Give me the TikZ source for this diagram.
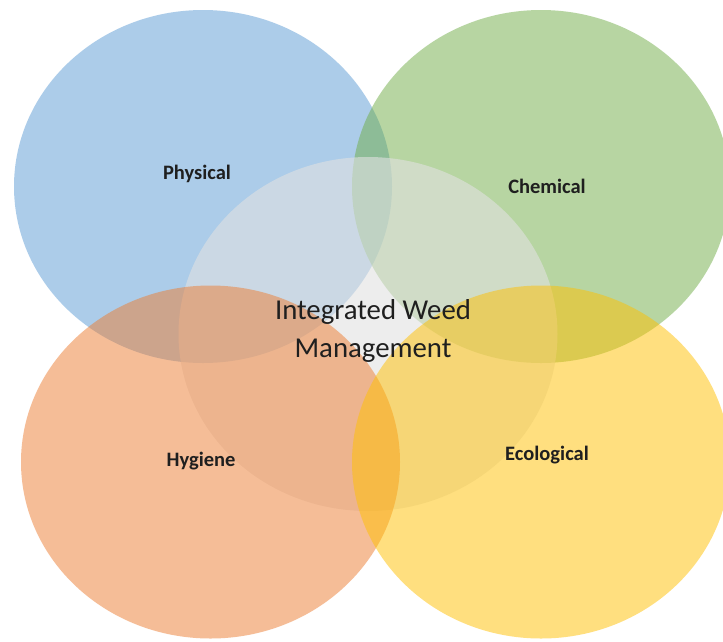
\documentclass[tikz,border=0pt]{standalone}
\usepackage{fontspec}
\setmainfont{Carlito}

\definecolor{physblue}{RGB}{91,155,213}
\definecolor{chemgreen}{RGB}{112,173,71}
\definecolor{hygorange}{RGB}{237,125,49}
\definecolor{ecoyellow}{RGB}{255,192,0}
\definecolor{iwmgray}{RGB}{225,225,225}

\begin{document}
\begin{tikzpicture}[
                x=1pt, y=-1pt,
                blob/.style={fill opacity=0.5},
                core/.style={fill=iwmgray, fill opacity=0.6},
                every node/.style={font=\fontsize{20.5}{24}\selectfont\bfseries, text=black!88}
            ]
                \clip (0,0) rectangle (723,641);
                \fill[white] (0,0) rectangle (723,641);
                % top row
                \fill[blob, fill=physblue] (203,186.5) ellipse [x radius=189, y radius=176.5];
                \fill[blob, fill=chemgreen] (541,186.5) ellipse [x radius=189, y radius=176.5];
                % centre
                \fill[core] (368,334) ellipse [x radius=189.5, y radius=177];
                % bottom row
                \fill[blob, fill=hygorange] (210.5,462) ellipse [x radius=189.5, y radius=176.5];
                \fill[blob, fill=ecoyellow] (541,462) ellipse [x radius=189, y radius=176.5];
                % labels
                \node (physical) at (197,174) {Physical};
                \node (chemical) at (547,186) {Chemical};
                \node (hygiene) at (201,461) {Hygiene};
                \node (ecological) at (547,455) {Ecological};
                \node[font=\fontsize{28.8}{38}\selectfont, align=center] (iwm) at (373,331) {Integrated Weed\\Management};
            \end{tikzpicture}
\end{document}
